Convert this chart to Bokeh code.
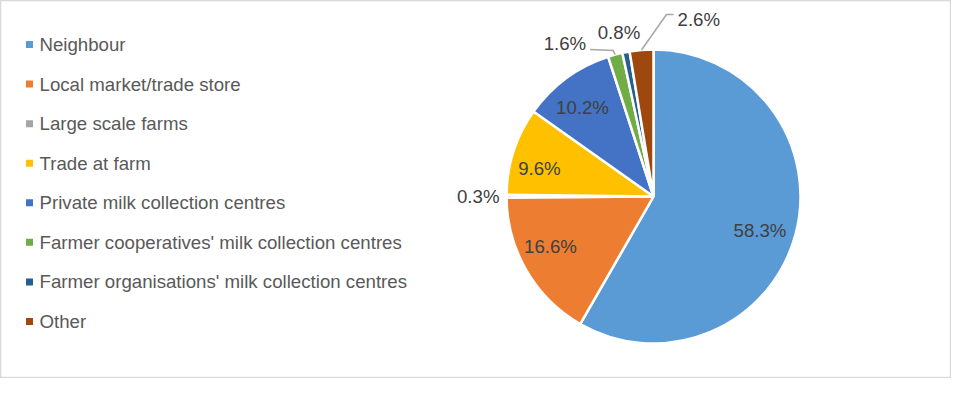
import math
from bokeh.plotting import figure
from bokeh.models import Range1d, ColumnDataSource
from bokeh.core.properties import value
from bokeh.embed import file_html
from bokeh.resources import INLINE

# ---- data ----
categories = ["Neighbour", "Local market/trade store", "Large scale farms", "Trade at farm",
              "Private milk collection centres", "Farmer cooperatives' milk collection centres",
              "Farmer organisations' milk collection centres", "Other"]
shares = [58.3, 16.6, 0.3, 9.6, 10.2, 1.6, 0.8, 2.6]
labels = ["58.3%", "16.6%", "0.3%", "9.6%", "10.2%", "1.6%", "0.8%", "2.6%"]

# ---- styles ----
colors = ["#5B9BD5", "#ED7D31", "#A5A5A5", "#FFC000", "#4472C4", "#70AD47", "#255E91", "#9E480E"]
W, H = 951, 378
CX, CY, R = 653, H - 196, 147      # pie centre (data px) and radius (screen px)
FONT = "Liberation Sans"
# label placement: inside (radial fraction + angular nudge in degrees, clockwise)
inside = [True, True, False, True, True, False, False, False]
in_frac = {0: 0.76, 1: 0.78, 3: 0.80, 4: 0.775}
in_nudge = {0: 2.7, 1: 4.2, 3: -4.0, 4: -2.2}
# outside labels: offset from slice edge point
out_offset = {2: (-7, 0, "right"), 5: (-29, 11, "right"), 6: (-7, 20, "center"), 7: (36, 30.5, "left")}

p = figure(width=W, height=H, x_range=Range1d(0, W), y_range=Range1d(0, H),
           output_backend="svg", toolbar_location=None, min_border=0)
p.axis.visible = False
p.grid.visible = False
p.outline_line_color = "#D9D9D9"
p.outline_line_width = 1.5
p.background_fill_color = "white"

total = sum(shares)
starts, ends, mids = [], [], []
c = 0.0
for s in shares:
    a0 = c / total
    c += s
    a1 = c / total
    starts.append(math.pi / 2 - 2 * math.pi * a0)
    ends.append(math.pi / 2 - 2 * math.pi * a1)
    mids.append(math.pi / 2 - 2 * math.pi * (a0 + a1) / 2)

src = ColumnDataSource(dict(x=[CX] * len(shares), y=[CY] * len(shares),
                            start=starts, end=ends, color=colors))
p.wedge(x="x", y="y", radius=R, radius_units="screen", start_angle="start", end_angle="end",
        direction="clock", fill_color="color", line_color="white", line_width=2.5, source=src)

# data labels
lx, ly, ltxt, lal = [], [], [], []
for i, m in enumerate(mids):
    ex, ey = CX + R * math.cos(m), CY + R * math.sin(m)
    if inside[i]:
        f = in_frac[i] * R
        a = m - math.radians(in_nudge[i])
        lx.append(CX + f * math.cos(a)); ly.append(CY + f * math.sin(a))
        lal.append("center")
    else:
        dx, dy, al = out_offset[i]
        lx.append(ex + dx); ly.append(ey + dy); lal.append(al)
    ltxt.append(labels[i])

# leader lines (label side -> slice edge)
m5 = mids[5]
e5 = (CX + R * math.cos(m5), CY + R * math.sin(m5))
p.line([lx[5] + 4, e5[0] - 2, e5[0]], [ly[5] - 6, ly[5] - 7, e5[1]],
       line_color="#A6A6A6", line_width=1.5)
m7 = mids[7]
e7 = (CX + R * math.cos(m7), CY + R * math.sin(m7))
p.line([lx[7] - 4, lx[7] - 11, e7[0]], [ly[7] + 5, ly[7] + 5, e7[1]],
       line_color="#A6A6A6", line_width=1.5)

p.text(x=lx, y=ly, text=ltxt, text_align=lal, text_baseline="middle",
       text_font=value(FONT), text_font_size="18.67px", text_color="#404040")

# legend
n = len(categories)
leg_y = [H - (44 + i * 39.57) for i in range(n)]
p.rect(x=[29] * n, y=leg_y, width=7, height=7, width_units="screen", height_units="screen",
       fill_color=colors, line_color=None)
p.text(x=[39] * n, y=leg_y, text=categories, text_align="left", text_baseline="middle",
       text_font=value(FONT), text_font_size="18.67px", text_color="#595959")

open("out.html", "w").write(file_html(p, INLINE))
